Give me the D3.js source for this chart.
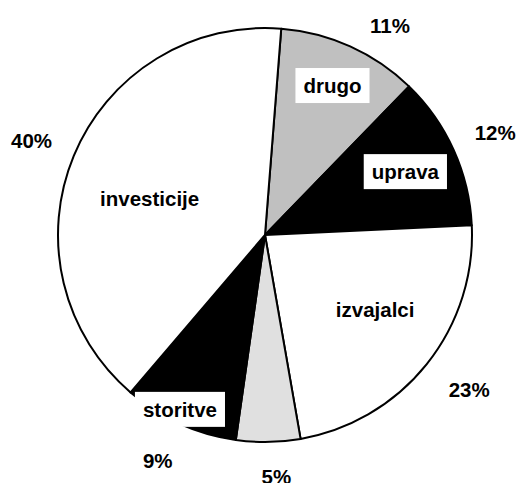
<!DOCTYPE html>
<html>
<head>
<meta charset="utf-8">
<script src="https://cdn.jsdelivr.net/npm/d3@7"></script>
<style>
  body { margin: 0; padding: 0; background: #fff; }
  svg { display: block; }
  text { font-family: "Liberation Sans", Arial, sans-serif; font-weight: bold; font-size: 20.5px; fill: #000; }
</style>
</head>
<body>
<script>
// data
var categories = ["drugo", "uprava", "izvajalci", "", "storitve", "investicije"];
var shares = [11, 12, 23, 5, 9, 40];
var colors = ["#c0c0c0", "#000000", "#ffffff", "#e0e0e0", "#000000", "#ffffff"];

// label layout: radius of category label, angle nudge (deg), radius of % label, angle nudge (deg)
var catRadius = [164, 154, 133, 0, 194, 121];
var catShift = [0, 0, -4.6, 0, 1.7, -5];
var pctRadius = [244, 252, 256, 242, 250, 252];
var pctShift = [6.5, 0.3, -1.6, -1.8, 1.1, -0.4];

var width = 517, height = 483;
var cx = 265, cy = 235, r = 207;
var start = 4.5 * Math.PI / 180;

var svg = d3.select("body").append("svg")
    .attr("width", width)
    .attr("height", height);

var g = svg.append("g").attr("transform", "translate(" + cx + "," + cy + ")");

var pie = d3.pie().sort(null).value(function(d){ return d; })
    .startAngle(start).endAngle(start + 2 * Math.PI);
var arcs = pie(shares);
var arc = d3.arc().innerRadius(0).outerRadius(r);

g.selectAll("path")
    .data(arcs)
    .enter()
    .append("path")
    .attr("d", arc)
    .attr("fill", function(d, i){ return colors[i]; })
    .attr("stroke", "#000")
    .attr("stroke-width", 2)
    .attr("stroke-linejoin", "round");

function pos(d, rad, shift) {
    var a = (d.startAngle + d.endAngle) / 2 + shift * Math.PI / 180;
    return [rad * Math.sin(a), -rad * Math.cos(a)];
}

// category labels with white boxes
arcs.forEach(function(d, i) {
    if (!categories[i]) return;
    var p = pos(d, catRadius[i], catShift[i]);
    var lg = g.append("g").attr("transform", "translate(" + p[0] + "," + p[1] + ")");
    var box = lg.append("rect").attr("fill", "#fff");
    var t = lg.append("text")
        .attr("text-anchor", "middle")
        .attr("dy", "0.36em")
        .text(categories[i]);
    var w = t.node().getComputedTextLength();
    box.attr("x", -w / 2 - 8).attr("y", -17.5).attr("width", w + 16).attr("height", 35);
});

// percent labels
g.selectAll(".pct")
    .data(arcs)
    .enter()
    .append("text")
    .attr("class", "pct")
    .attr("text-anchor", "middle")
    .attr("dy", "0.36em")
    .attr("x", function(d, i){ return pos(d, pctRadius[i], pctShift[i])[0]; })
    .attr("y", function(d, i){ return pos(d, pctRadius[i], pctShift[i])[1]; })
    .text(function(d, i){ return shares[i] + "%"; });
</script>
</body>
</html>
